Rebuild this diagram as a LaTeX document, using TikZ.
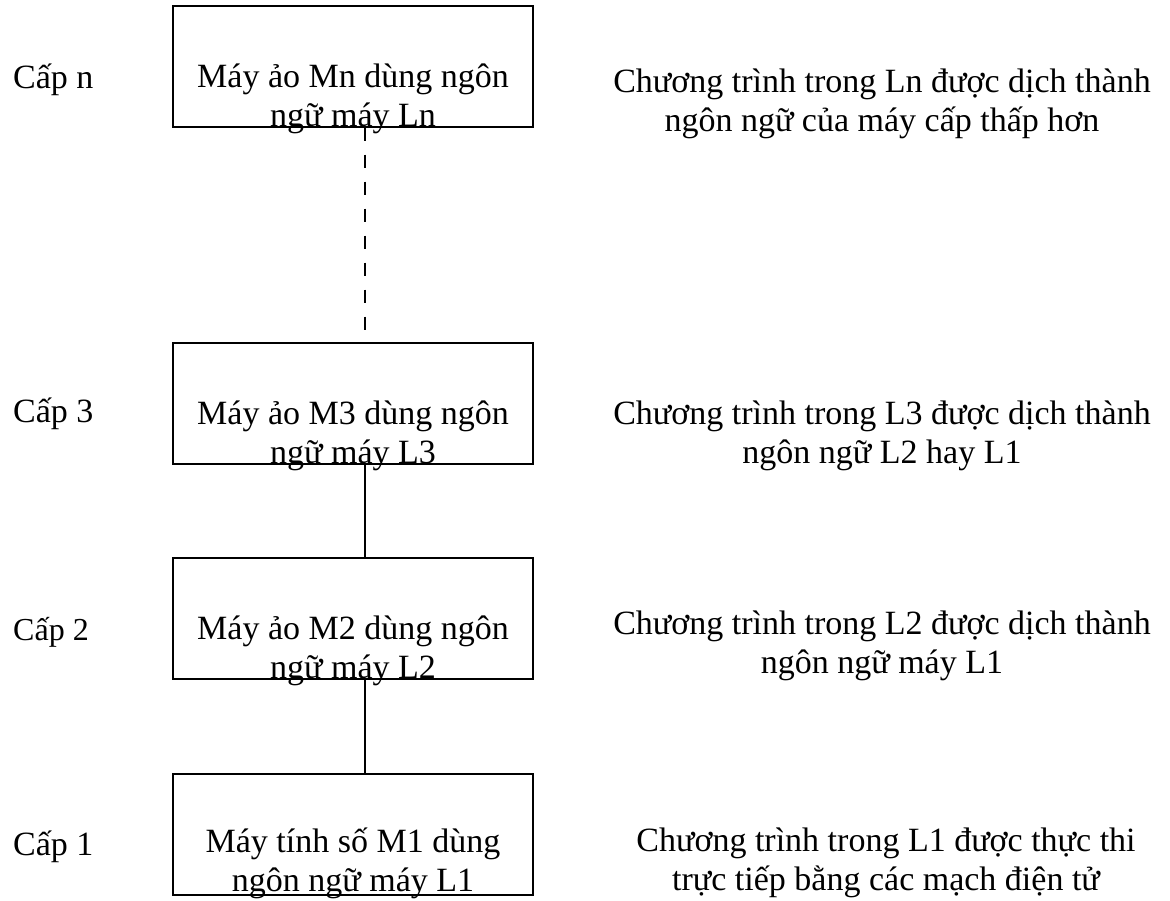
\documentclass[tikz,border=0pt]{standalone}
\usepackage{fontspec}
\setmainfont{Liberation Serif}
\usetikzlibrary{positioning}

\begin{document}
\begin{tikzpicture}[x=1pt,y=-1pt,font=\fontsize{34}{39}\selectfont,
    level/.style={draw,line width=1.4pt,minimum width=360pt,minimum height=121pt,inner sep=0pt},
    boxtext/.style={align=center,inner sep=0pt,anchor=base},
    note/.style={align=center,inner sep=0pt,anchor=base},
    tag/.style={inner sep=0pt,anchor=base west},
    link/.style={line width=1.4pt}]

        \useasboundingbox (0,0) rectangle (1170,900);

        % the four levels
        \node[level] (Mn) at (353,66.5)  {};
        \node[level] (M3) at (353,403.5) {};
        \node[level] (M2) at (353,618.5) {};
        \node[level] (M1) at (353,834.5) {};

        \node[boxtext] (tn) at ([yshift=-121pt]Mn.north) {Máy ảo Mn dùng ngôn\\ngữ máy Ln};
        \node[boxtext] (t3) at ([yshift=-121pt]M3.north) {Máy ảo M3 dùng ngôn\\ngữ máy L3};
        \node[boxtext] (t2) at ([yshift=-121pt]M2.north) {Máy ảo M2 dùng ngôn\\ngữ máy L2};
        \node[boxtext] (t1) at ([yshift=-118pt]M1.north) {Máy tính số M1 dùng\\ngôn ngữ máy L1};

        % level names
        \node[tag] (cn) at (13,88)  {Cấp n};
        \node[tag] (c3) at (13,422) {Cấp 3};
        \node[tag] (c2) at (13,640) {\fontsize{32}{39}\selectfont Cấp 2};
        \node[tag] (c1) at (13,855) {Cấp 1};

        % what happens at each level
        \node[note] (rn) at (882,131) {Chương trình trong Ln được dịch thành\\ngôn ngữ của máy cấp thấp hơn};
        \node[note] (r3) at (882,463) {Chương trình trong L3 được dịch thành\\ngôn ngữ L2 hay L1};
        \node[note] (r2) at (882,673) {Chương trình trong L2 được dịch thành\\ngôn ngữ máy L1};
        \node[note] (r1) at (886,890) {Chương trình trong L1 được thực thi\\trực tiếp bằng các mạch điện tử};

        \coordinate (spine) at (365,0);
        \draw[link,dash pattern=on 13pt off 14pt] (Mn.south -| spine) -- (M3.north -| spine);
        \draw[link] (M3.south -| spine) -- (M2.north -| spine);
        \draw[link] (M2.south -| spine) -- (M1.north -| spine);

\end{tikzpicture}
\end{document}
